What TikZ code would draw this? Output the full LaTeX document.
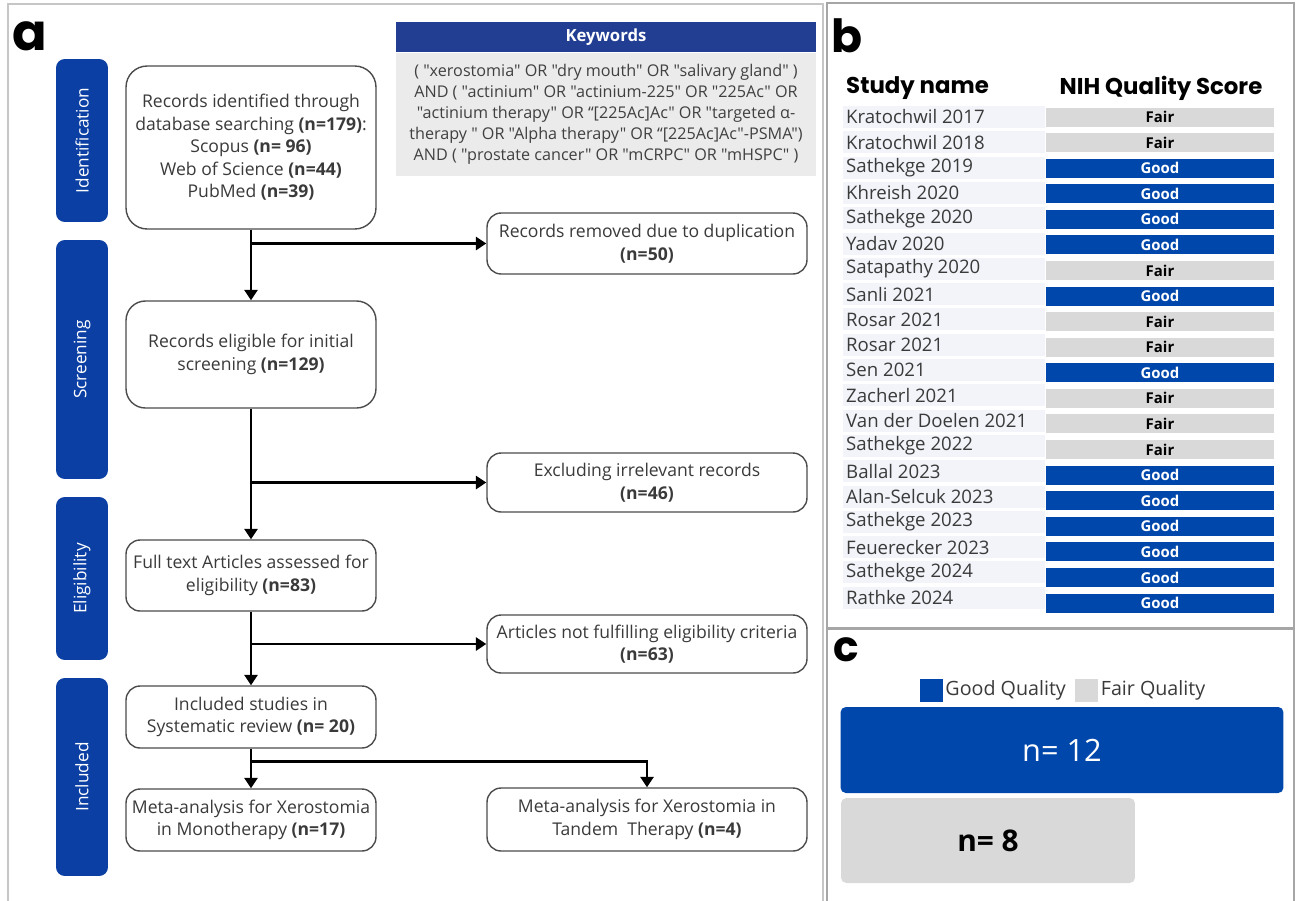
\documentclass[tikz,border=0pt]{standalone}
\usepackage{fontspec}
\setmainfont{Open Sans}[Ligatures=TeXOff]
\newfontfamily\headfont{Poppins}
\usetikzlibrary{arrows.meta,positioning}

\definecolor{cobalt}{HTML}{0047AB}
\definecolor{navyhead}{HTML}{213E92}
\definecolor{stageblue}{HTML}{0B3FA3}
\definecolor{fairgray}{HTML}{D9D9D9}
\definecolor{kwgray}{HTML}{EBEBEB}
\definecolor{txtgray}{HTML}{3A3A3A}
\definecolor{rowtint}{HTML}{F2F4F9}

\def\goodword{Good}

\begin{document}
\begin{tikzpicture}[x=0.02cm,y=-0.02cm,
  every node/.style={text=txtgray},
  >={Triangle[width=7.5pt,length=6pt]}
]

\tikzstyle{stage}=[fill=stageblue,rounded corners=5pt,minimum height=1.04cm,rotate=90,text=white,font=\fontsize{9.8}{11}\selectfont]
\tikzset{flow/.style={draw=black!70,line width=0.8pt,fill=white,align=center,minimum width=5cm,rounded corners=8pt,font=\fontsize{10}{12.8}\selectfont}}
\tikzset{side/.style={flow,minimum width=6.4cm}}
\tikzset{link/.style={line width=1.6pt,black}}
\tikzset{head/.style={font=\headfont\bfseries\fontsize{13}{14}\selectfont,text=black}}
\tikzset{
  qbar/.style={minimum width=4.56cm,minimum height=0.38cm,inner sep=0pt,font=\bfseries\fontsize{8.5}{9}\selectfont},
  goodbar/.style={qbar,fill=cobalt,text=white},
  fairbar/.style={qbar,fill=fairgray,text=black},
  qual/.code={\edef\qtmp{#1}\ifx\qtmp\goodword\pgfkeysalso{goodbar}\else\pgfkeysalso{fairbar}\fi}
}

\useasboundingbox (0,0) rectangle (1301,900);

% panel frames
\draw[gray!45,line width=1.2pt] (8,4) rectangle (823,910);
\draw[gray!70,line width=1.6pt] (827,3) rectangle (1294,628);
\draw[gray!70,line width=1.6pt] (827,629) rectangle (1294,910);

\node[font=\headfont\bfseries\fontsize{29}{29}\selectfont,text=black] (la) at (30,36) {a};
\node[font=\headfont\bfseries\fontsize{26}{26}\selectfont,text=black] (lb) at (847,36) {b};
\node[font=\headfont\bfseries\fontsize{24}{24}\selectfont,text=black] (lc) at (846,650) {c};

% stages
\node[stage,minimum width=3.26cm] (st1) at (82,140.5) {Identification};
\node[stage,minimum width=4.78cm] (st2) at (82,359.5) {Screening};
\node[stage,minimum width=3.26cm] (st3) at (82,578.5) {Eligibility};
\node[stage,minimum width=3.96cm] (st4) at (82,777) {Included};

% flow boxes
\node[flow,minimum height=3.26cm,rounded corners=12pt] (id1) at (251,147.5)
  {Records identified through\\database searching \textbf{(n=179)}:\\Scopus \textbf{(n= 96)}\\Web of Science \textbf{(n=44)}\\PubMed \textbf{(n=39)}};
\node[flow,minimum height=2.14cm,rounded corners=11pt] (sc1) at (251,354.5)
  {Records eligible for initial\\screening \textbf{(n=129)}};
\node[flow,minimum height=1.42cm] (el1) at (251,575.5)
  {Full text Articles assessed for\\eligibility \textbf{(n=83)}};
\node[flow,minimum height=1.24cm] (in1) at (251,717)
  {Included studies in\\Systematic review \textbf{(n= 20)}};
\node[flow,minimum height=1.24cm] (ma1) at (251,820)
  {Meta-analysis for Xerostomia\\in Monotherapy \textbf{(n=17)}};

\node[side,minimum height=1.22cm] (ex1) at (647,243.5)
  {Records removed due to duplication\\\textbf{(n=50)}};
\node[side,minimum height=1.18cm] (ex2) at (647,482.5)
  {Excluding irrelevant records\\\textbf{(n=46)}};
\node[side,minimum height=1.16cm] (ex3) at (647,644)
  {Articles not fulfilling eligibility criteria\\\textbf{(n=63)}};
\node[side,minimum height=1.26cm] (ma2) at (647,819.5)
  {Meta-analysis for Xerostomia in\\Tandem\ \ Therapy \textbf{(n=4)}};

\coordinate[below=0.26cm of in1] (sp4);

\draw[link,->] (id1) -- (sc1);
\draw[link,->] (id1.south |- ex1.west) -- (ex1.west);
\draw[link,->] (sc1) -- (el1);
\draw[link,->] (sc1.south |- ex2.west) -- (ex2.west);
\draw[link,->] (el1) -- (in1);
\draw[link,->] (el1.south |- ex3.west) -- (ex3.west);
\draw[link,->] (in1) -- (ma1);
\draw[link,->] (sp4) -| (ma2.north);

% keywords
\node[fill=navyhead,minimum width=8.4cm,minimum height=0.6cm,text=white,
  font=\bfseries\fontsize{9.5}{10}\selectfont] (kw) at (606,37) {Keywords};
\node[fill=kwgray,minimum width=8.4cm,minimum height=2.46cm,below=0pt of kw,
  align=center,inner sep=0pt,text=black!75,font=\fontsize{9.2}{11.9}\selectfont] (kwt)
  {( "xerostomia" OR "dry mouth" OR "salivary gland" )\\
   AND ( "actinium" OR "actinium-225" OR "225Ac" OR\\
   "actinium therapy" OR “[225Ac]Ac" OR "targeted α-\\
   therapy " OR "Alpha therapy" OR “[225Ac]Ac"-PSMA")\\
   AND ( "prostate cancer" OR "mCRPC" OR "mHSPC" )};

% table b
\node[head,anchor=west] (hn) at (840,88) {Study name};
\node[head] (hq) at (1161,88) {NIH Quality Score};

\foreach \nm/\sc [count=\i] in {Kratochwil 2017/Fair,Kratochwil 2018/Fair,
  Sathekge 2019/Good,Khreish 2020/Good,Sathekge 2020/Good,Yadav 2020/Good,
  Satapathy 2020/Fair,Sanli 2021/Good,Rosar 2021/Fair,Rosar 2021/Fair,
  Sen 2021/Good,Zacherl 2021/Fair,Van der Doelen 2021/Fair,Sathekge 2022/Fair,
  Ballal 2023/Good,Alan-Selcuk 2023/Good,Sathekge 2023/Good,
  Feuerecker 2023/Good,Sathekge 2024/Good,Rathke 2024/Good}{
  \pgfmathsetmacro{\yn}{117+(\i-1)*25.3}
  \pgfmathsetmacro{\yq}{117+(\i-1)*25.58}
  \fill[rowtint] (843,\yn-11) rectangle (1045,\yn+11);
  \node[anchor=west,font=\fontsize{10.6}{11}\selectfont] (sn\i) at (840,\yn) {\nm};
  \node[qual=\sc] (qs\i) at (1160,\yq) {\sc};
}

% panel c
\node[fill=cobalt,minimum width=0.46cm,minimum height=0.46cm,inner sep=0pt] (lg1) at (931.5,690.5) {};
\node[anchor=west,inner sep=1pt,font=\fontsize{11.2}{12}\selectfont] (lt1) at (lg1.east) {Good Quality};
\node[fill=fairgray,minimum width=0.46cm,minimum height=0.46cm,inner sep=0pt,right=4pt of lt1] (lg2) {};
\node[anchor=west,inner sep=1pt,font=\fontsize{11.2}{12}\selectfont] (lt2) at (lg2.east) {Fair Quality};

\node[fill=cobalt,rounded corners=3pt,minimum width=8.86cm,minimum height=1.72cm,
  text=white,font=\fontsize{17.5}{18}\selectfont] (gb) at (1062,750) {n= 12};
\node[fill=fairgray,rounded corners=3pt,minimum width=5.88cm,minimum height=1.7cm,
  text=black,font=\bfseries\fontsize{17}{17}\selectfont] (fb) at (988,840.5) {n= 8};

\end{tikzpicture}
\end{document}
